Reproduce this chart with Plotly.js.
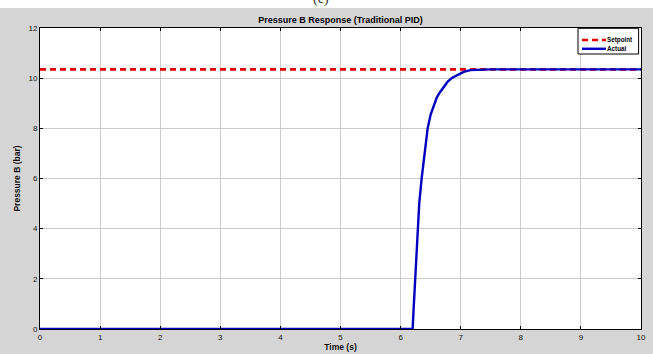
<!DOCTYPE html>
<html>
<head>
<meta charset="utf-8">
<script src="https://cdn.plot.ly/plotly-3.0.1.min.js"></script>
<style>
  html, body { margin: 0; padding: 0; background: #ffffff; width: 653px; height: 354px; overflow: hidden; }
  #cap { position: absolute; left: 0; top: 0; width: 653px; height: 8px; overflow: hidden; background: #ffffff; }
  #cap span { position: absolute; left: 313px; top: -9px; font: 14px "Liberation Serif", serif; color: #333; }
  #chart { position: absolute; left: 0; top: 8px; width: 653px; height: 346px; }
</style>
</head>
<body>
<div id="cap"><span>(c)</span></div>
<div id="chart"></div>
<script>
// Pressure B step response under the traditional PID controller
const timeS = [0, 6.20, 6.22, 6.24, 6.26, 6.28, 6.31, 6.35, 6.40, 6.45, 6.50, 6.55, 6.60, 6.65, 6.71, 6.78, 6.86, 6.94, 7.05, 7.16, 7.30, 7.50, 8.0, 9.0, 10.0];
const actual = [0, 0, 0.95, 1.95, 3.0, 4.0, 5.0, 6.0, 7.1, 8.0, 8.55, 8.93, 9.22, 9.42, 9.62, 9.85, 10.02, 10.13, 10.25, 10.32, 10.34, 10.35, 10.35, 10.35, 10.35];
const setpointT = [0, 10];
const setpointV = [10.35, 10.35];
const xTicks = [0, 1, 2, 3, 4, 5, 6, 7, 8, 9, 10];
const yTicks = [0, 2, 4, 6, 8, 10, 12];
const seriesNames = ["Setpoint", "Actual"];

const fontFam = "Liberation Sans, Arial, sans-serif";
const tickFont = { family: fontFam, size: 8, color: "#111" };

const setpointLine = { color: "#e00000", width: 2.6, dash: "6px,4px" };
const actualLine = { color: "#0000c0", width: 2.4 };

const traces = [
  { x: setpointT, y: setpointV, name: seriesNames[0], mode: "lines", line: setpointLine },
  { x: timeS, y: actual, name: seriesNames[1], mode: "lines", line: actualLine }
];

const axisCommon = {
  showline: true, linecolor: "#000", linewidth: 1, mirror: "ticks",
  ticks: "inside", ticklen: 3, tickcolor: "#000", tickwidth: 1,
  showgrid: true, gridcolor: "#cbcbcb", gridwidth: 1,
  zeroline: false, tickfont: tickFont
};

// Compact boxed key in the top-right corner of the axes
const key = { x0: 0.8952, x1: 0.996, y0: 0.9136, y1: 0.999, lx0: 0.9018, lx1: 0.9418, tx: 0.9425, rows: [0.9600, 0.9310] };
const keyLines = [setpointLine, actualLine];

const shapes = [
  { type: "rect", xref: "paper", yref: "paper", x0: key.x0, x1: key.x1, y0: key.y0, y1: key.y1,
    line: { color: "#000", width: 1 }, fillcolor: "#ffffff", layer: "above" }
].concat(keyLines.map((ln, i) => ({
  type: "line", xref: "paper", yref: "paper", x0: key.lx0, x1: key.lx1, y0: key.rows[i], y1: key.rows[i],
  line: { color: ln.color, width: ln.width, dash: ln.dash || "solid" }, layer: "above"
})));

const annotations = seriesNames.map((nm, i) => ({
  xref: "paper", yref: "paper", x: key.tx, y: key.rows[i], xanchor: "left", yanchor: "middle",
  text: "<b>" + nm + "</b>", showarrow: false, borderpad: 0,
  font: { family: fontFam, size: 6.3, color: "#000" }
}));

const layout = {
  width: 653, height: 346,
  paper_bgcolor: "#d5d5d5", plot_bgcolor: "#ffffff",
  margin: { l: 40, r: 12, t: 20, b: 25 },
  showlegend: false,
  title: {
    text: "<b>Pressure B Response (Traditional PID)</b>",
    font: { family: fontFam, size: 9, color: "#000" },
    x: 0.5215, xanchor: "center", y: 1 - 12 / 346, yanchor: "middle"
  },
  xaxis: Object.assign({}, axisCommon, {
    range: [0, 10], tickvals: xTicks, ticktext: xTicks.map(String),
    title: { text: "<b>Time (s)</b>", font: { family: fontFam, size: 8.5, color: "#111" }, standoff: 2 }
  }),
  yaxis: Object.assign({}, axisCommon, {
    range: [0, 12], tickvals: yTicks, ticktext: yTicks.map(String),
    title: { text: "<b>Pressure B (bar)</b>", font: { family: fontFam, size: 8.5, color: "#111" }, standoff: 6 }
  }),
  shapes: shapes,
  annotations: annotations
};

Plotly.newPlot("chart", traces, layout, { displayModeBar: false, staticPlot: true });
</script>
</body>
</html>
